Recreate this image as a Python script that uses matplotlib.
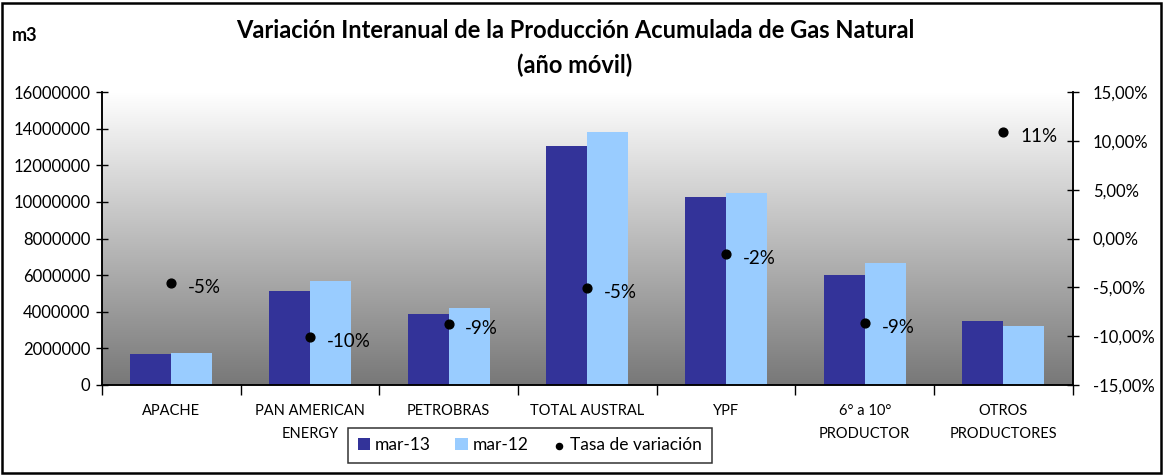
import numpy as np
import matplotlib.pyplot as plt
from matplotlib.patches import Rectangle
from matplotlib.ticker import FuncFormatter

plt.rcParams['font.family'] = ['Lato', 'DejaVu Sans']

categories = ["APACHE", "PAN AMERICAN\nENERGY", "PETROBRAS", "TOTAL AUSTRAL",
              "YPF", "6° a 10°\nPRODUCTOR", "OTROS\nPRODUCTORES"]
mar13 = [1700000, 5130000, 3880000, 13060000, 10270000, 6000000, 3500000]
mar12 = [1750000, 5680000, 4200000, 13800000, 10500000, 6670000, 3200000]
tasa = [-4.6, -10.1, -8.8, -5.1, -1.6, -8.7, 10.9]

fig = plt.figure(figsize=(11.66, 4.75), dpi=100)
ax = fig.add_axes([0.0875, 0.1895, 0.8325, 0.6165])
ax2 = ax.twinx()

x = np.arange(len(categories))
w = 0.295

# gradient background, white at top to mid gray at bottom
g = np.linspace(1.0, 0.47, 256).reshape(-1, 1, 1) * np.ones((1, 1, 3))
ax.imshow(g, aspect='auto', extent=[0, 1, 0, 1], transform=ax.transAxes,
          origin='upper', zorder=0)

ax.bar(x - w / 2, mar13, w, color='#333399', label='mar-13', zorder=2)
ax.bar(x + w / 2, mar12, w, color='#99ccff', label='mar-12', zorder=2)
ax.set_xlim(-0.5, len(categories) - 0.5)
ax.set_ylim(0, 16000000)
ax.set_yticks(np.arange(0, 16000001, 2000000))
ax.yaxis.set_major_formatter(FuncFormatter(lambda v, p: f"{int(v)}"))

ax2.scatter(x, tasa, s=40, color='black', zorder=5, label='Tasa de variación')
for xi, t in zip(x, tasa):
    ax2.annotate(f"{round(t):d}%", (xi, t), xytext=(12, -3), textcoords='offset points',
                 fontsize=13.5, va='center', ha='left')
ax2.set_ylim(-15, 15)
ax2.set_yticks(np.arange(-15, 16, 5))
ax2.yaxis.set_major_formatter(FuncFormatter(lambda v, p: f"{v:.2f}%".replace('.', ',')))

ax.set_xticks(np.arange(-0.5, len(categories), 1))
ax.set_xticklabels([])
ax.set_xticks(x, minor=True)
ax.set_xticklabels(categories, minor=True, fontsize=10.5, linespacing=1.8, va='top')
ax.tick_params(axis='x', which='minor', length=0, pad=14)
ax.tick_params(axis='x', which='major', direction='out', length=7, width=1)
ax.tick_params(axis='y', direction='inout', length=9, width=1, labelsize=12, pad=4)
ax2.tick_params(axis='y', direction='inout', length=9, width=1, labelsize=12, pad=10)

for a in (ax, ax2):
    a.spines['top'].set_visible(False)
    for s in ('left', 'right', 'bottom'):
        a.spines[s].set_linewidth(1.1)

fig.text(0.493, 0.935, "Variación Interanual de la Producción Acumulada de Gas Natural",
         ha='center', va='center', fontsize=17, fontweight='bold')
fig.text(0.493, 0.862, "(año móvil)", ha='center', va='center', fontsize=17, fontweight='bold')
fig.text(0.010, 0.925, "m3", ha='left', va='center', fontsize=13, fontweight='bold')

h1, l1 = ax.get_legend_handles_labels()
h2, l2 = ax2.get_legend_handles_labels()
leg = fig.legend(h1 + h2, l1 + l2, loc='center', bbox_to_anchor=(0.4545, 0.063),
                 ncol=3, fontsize=12.5, frameon=True, fancybox=False, edgecolor='black',
                 handlelength=0.7, handleheight=0.7, handletextpad=0.3, columnspacing=1.4,
                 borderpad=0.55, markerscale=0.7)
leg.get_frame().set_linewidth(1.1)

fig.patches.append(Rectangle((0.002, 0.004), 0.994, 0.99, transform=fig.transFigure,
                             fill=False, edgecolor='black', linewidth=1.8))

fig.savefig("out.png", dpi=100)
